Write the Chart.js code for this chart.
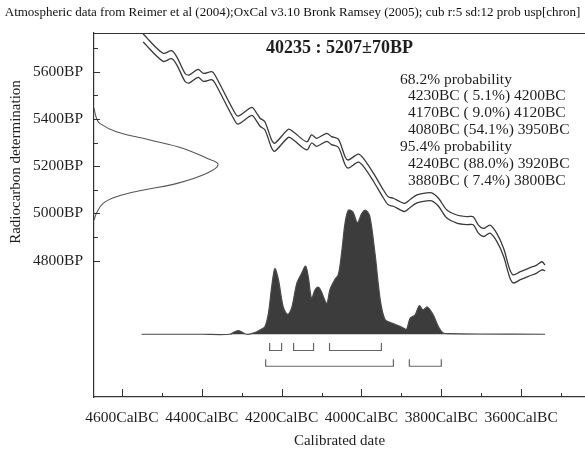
<!DOCTYPE html>
<html>
<head>
<meta charset="utf-8">
<script src="https://cdn.jsdelivr.net/npm/chart.js@4/dist/chart.umd.min.js"></script>
<style>
  html, body { margin: 0; padding: 0; background: #fff; }
  #wrap { width: 585px; height: 449px; }
</style>
</head>
<body>
<div id="wrap"><canvas id="myChart" width="585" height="449"></canvas></div>
<script>
const titulo = "Atmospheric data from Reimer et al (2004);OxCal v3.10 Bronk Ramsey (2005); cub r:5 sd:12 prob usp[chron]";
const muestra = "40235 : 5207\u00B170BP";
const lineasProb = [
    "68.2% probability",
    "  4230BC ( 5.1%) 4200BC",
    "  4170BC ( 9.0%) 4120BC",
    "  4080BC (54.1%) 3950BC",
    "95.4% probability",
    "  4240BC (88.0%) 3920BC",
    "  3880BC ( 7.4%) 3800BC"
];

// ticks
const ticksX = [4600, 4500, 4400, 4300, 4200, 4100, 4000, 3900, 3800, 3700, 3600, 3500];
const ticksY = [5700, 5600, 5500, 5400, 5300, 5200, 5100, 5000, 4900, 4800];

// curva de calibracion (BC, BP)
const curvaBC = [4547, 4497, 4476, 4463, 4442, 4432, 4409, 4396, 4375, 4367, 4321, 4309, 4275, 4263, 4254, 4242, 4225, 4217, 4183, 4171, 4137, 4125, 4112, 4087, 4075, 4058, 4041, 4033, 4008, 3995, 3970, 3945, 3933, 3920, 3903, 3891, 3878, 3861, 3845, 3824, 3807, 3786, 3761, 3736, 3720, 3707, 3694, 3678, 3661, 3644, 3628, 3619, 3602, 3582, 3561, 3548, 3540];
const curvaSup = [5760, 5678, 5689, 5664, 5593, 5586, 5610, 5593, 5600, 5586, 5438, 5412, 5449, 5426, 5403, 5388, 5311, 5297, 5356, 5346, 5303, 5332, 5318, 5339, 5325, 5314, 5240, 5226, 5251, 5233, 5170, 5099, 5070, 5064, 5049, 5042, 5059, 5078, 5085, 5087, 5064, 5014, 4993, 4986, 4986, 4950, 4936, 4950, 4915, 4852, 4760, 4739, 4753, 4767, 4781, 4795, 4781];
const curvaInf = [5726, 5644, 5655, 5630, 5559, 5552, 5576, 5559, 5566, 5552, 5404, 5378, 5415, 5392, 5369, 5354, 5277, 5263, 5322, 5312, 5269, 5298, 5284, 5305, 5291, 5280, 5206, 5192, 5217, 5199, 5136, 5065, 5036, 5030, 5015, 5008, 5025, 5044, 5051, 5053, 5030, 4980, 4959, 4952, 4952, 4916, 4902, 4916, 4881, 4818, 4726, 4705, 4719, 4733, 4747, 4761, 4757];

// medida radiocarbono (BP, amplitud relativa)
const gaussBP = [5445, 5403, 5381, 5346, 5311, 5275, 5233, 5207, 5170, 5127, 5099, 5070, 5042, 5000, 4972];
const gaussAmp = [0.0, 0.02, 0.046, 0.18, 0.45, 0.72, 0.91, 1.0, 0.91, 0.67, 0.40, 0.18, 0.073, 0.02, 0.0];

// distribucion calibrada (BC, probabilidad relativa)
const distBC = [4551, 4400, 4330, 4309, 4288, 4271, 4254, 4242, 4233, 4225, 4217, 4208, 4196, 4185, 4175, 4162, 4150, 4140, 4133, 4125, 4116, 4108, 4100, 4087, 4079, 4067, 4058, 4050, 4041, 4033, 4022, 4010, 3999, 3989, 3979, 3966, 3953, 3941, 3924, 3908, 3895, 3887, 3878, 3866, 3855, 3846, 3835, 3820, 3807, 3795, 3778, 3700, 3540];
const distProb = [0, 0, 0, 0.03, 0.0, 0.01, 0.035, 0.06, 0.17, 0.38, 0.53, 0.44, 0.22, 0.16, 0.21, 0.41, 0.49, 0.55, 0.46, 0.29, 0.36, 0.38, 0.34, 0.25, 0.36, 0.44, 0.48, 0.65, 0.9, 1.0, 0.99, 0.9, 0.975, 1.0, 0.95, 0.65, 0.28, 0.12, 0.09, 0.07, 0.05, 0.04, 0.13, 0.155, 0.23, 0.196, 0.22, 0.155, 0.06, 0.01, 0.005, 0.002, 0];

// rangos
const rangos68 = [[4230, 4200], [4170, 4120], [4080, 3950]];
const rangos95 = [[4240, 3920], [3880, 3800]];

const fuente = "'Liberation Serif', 'Times New Roman', serif";
const gris = "#3a3a3a";

function corchetes(rangos, base, tope) {
    const pts = [];
    rangos.forEach(([a, b]) => {
        pts.push({ x: a, y: tope }, { x: a, y: base }, { x: b, y: base }, { x: b, y: tope }, { x: b, y: null });
    });
    return pts;
}

const ticksHaciaDentro = {
    id: "ticksHaciaDentro",
    afterDatasetsDraw(chart) {
        const { ctx, chartArea } = chart;
        const sx = chart.scales.x;
        const sy = chart.scales.y;
        ctx.save();
        ctx.strokeStyle = "#333";
        ctx.lineWidth = 1;
        ctx.beginPath();
        sx.ticks.forEach(t => {
            const px = Math.round(sx.getPixelForValue(t.value)) + 0.5;
            const largo = t.value % 200 === 0 ? 8 : 4;
            ctx.moveTo(px, chartArea.bottom);
            ctx.lineTo(px, chartArea.bottom - largo);
        });
        sy.ticks.forEach(t => {
            const py = Math.round(sy.getPixelForValue(t.value)) + 0.5;
            const largo = t.value % 200 === 0 ? 6 : 4;
            ctx.moveTo(chartArea.left, py);
            ctx.lineTo(chartArea.left + largo, py);
        });
        ctx.stroke();
        // borde superior
        ctx.lineWidth = 1.2;
        ctx.beginPath();
        ctx.moveTo(chartArea.left, chartArea.top + 0.5);
        ctx.lineTo(chartArea.right, chartArea.top + 0.5);
        ctx.stroke();
        ctx.restore();
    }
};

const textos = {
    id: "textos",
    afterDraw(chart) {
        const { ctx, chartArea } = chart;
        ctx.save();
        ctx.fillStyle = "#1e1e1e";
        ctx.textBaseline = "middle";

        ctx.font = "bold 18px " + fuente;
        ctx.textAlign = "center";
        ctx.fillText(muestra, (chartArea.left + chartArea.right) / 2, 48);

        ctx.font = "15.5px " + fuente;
        ctx.textAlign = "left";
        lineasProb.forEach((l, i) => {
            const sangria = l.startsWith("  ");
            ctx.fillText(l.trim(), sangria ? 408 : 400, 79.5 + i * 16.9);
        });

        ctx.font = "15px " + fuente;
        ctx.textAlign = "center";
        ctx.fillText("Calibrated date", (chartArea.left + chartArea.right) / 2, 441);

        ctx.translate(16, 162);
        ctx.rotate(-Math.PI / 2);
        ctx.fillText("Radiocarbon determination", 0, 0);
        ctx.restore();
    }
};

const data = {
    datasets: [
        {
            label: "curva sup",
            data: curvaBC.map((x, i) => ({ x, y: curvaSup[i] })),
            xAxisID: "x", yAxisID: "y",
            borderColor: gris, borderWidth: 1.3, pointRadius: 0, tension: 0.3
        },
        {
            label: "curva inf",
            data: curvaBC.map((x, i) => ({ x, y: curvaInf[i] })),
            xAxisID: "x", yAxisID: "y",
            borderColor: gris, borderWidth: 1.3, pointRadius: 0, tension: 0.3
        },
        {
            label: "medida",
            data: gaussBP.map((y, i) => ({ x: gaussAmp[i], y })),
            xAxisID: "x2", yAxisID: "y",
            borderColor: "#555", borderWidth: 1.1, pointRadius: 0, tension: 0.4
        },
        {
            label: "calibrada",
            data: distBC.map((x, i) => ({ x, y: distProb[i] })),
            xAxisID: "x", yAxisID: "y2",
            borderColor: "#4a4a4a", borderWidth: 1.2, pointRadius: 0, tension: 0.3,
            fill: "origin", backgroundColor: "#3c3c3c"
        },
        {
            label: "68",
            data: corchetes(rangos68, -0.131, -0.07),
            xAxisID: "x", yAxisID: "y2",
            borderColor: "#666", borderWidth: 1.2, pointRadius: 0, spanGaps: false
        },
        {
            label: "95",
            data: corchetes(rangos95, -0.258, -0.201),
            xAxisID: "x", yAxisID: "y2",
            borderColor: "#666", borderWidth: 1.2, pointRadius: 0, spanGaps: false
        }
    ]
};

const config = {
    type: "line",
    data,
    options: {
        responsive: false,
        animation: false,
        devicePixelRatio: 1,
        layout: { padding: { left: 0, right: 0, top: 0, bottom: 0 } },
        plugins: {
            legend: { display: false },
            tooltip: { enabled: false },
            title: {
                display: true,
                text: titulo,
                color: "#111",
                font: { family: fuente, size: 13, weight: "normal" },
                padding: { top: 5, bottom: 12.4 }
            }
        },
        scales: {
            x: {
                type: "linear",
                reverse: true,
                min: 3440,
                max: 4670,
                position: "bottom",
                grid: { display: false, drawTicks: false },
                border: { color: "#333", width: 1.2 },
                afterBuildTicks: s => { s.ticks = ticksX.map(v => ({ value: v })); },
                afterFit: s => { s.height = 52; },
                ticks: {
                    autoSkip: false,
                    maxRotation: 0,
                    padding: 12,
                    color: "#1e1e1e",
                    font: { family: fuente, size: 15.5 },
                    callback: v => (v % 200 === 0 ? v + "CalBC" : "")
                }
            },
            y: {
                type: "linear",
                min: 4222,
                max: 5764,
                position: "left",
                grid: { display: false, drawTicks: false },
                border: { color: "#333", width: 1.2 },
                afterBuildTicks: s => { s.ticks = ticksY.map(v => ({ value: v })); },
                afterFit: s => { s.width = 94; },
                ticks: {
                    autoSkip: false,
                    padding: 11,
                    color: "#1e1e1e",
                    font: { family: fuente, size: 15.5 },
                    callback: v => (v % 200 === 0 && v <= 5600 ? v + "BP" : "")
                }
            },
            x2: { type: "linear", display: false, min: 0, max: 3.957 },
            y2: { type: "linear", display: false, min: -0.506, max: 2.43 }
        }
    },
    plugins: [ticksHaciaDentro, textos]
};

new Chart(document.getElementById("myChart"), config);
</script>
</body>
</html>
